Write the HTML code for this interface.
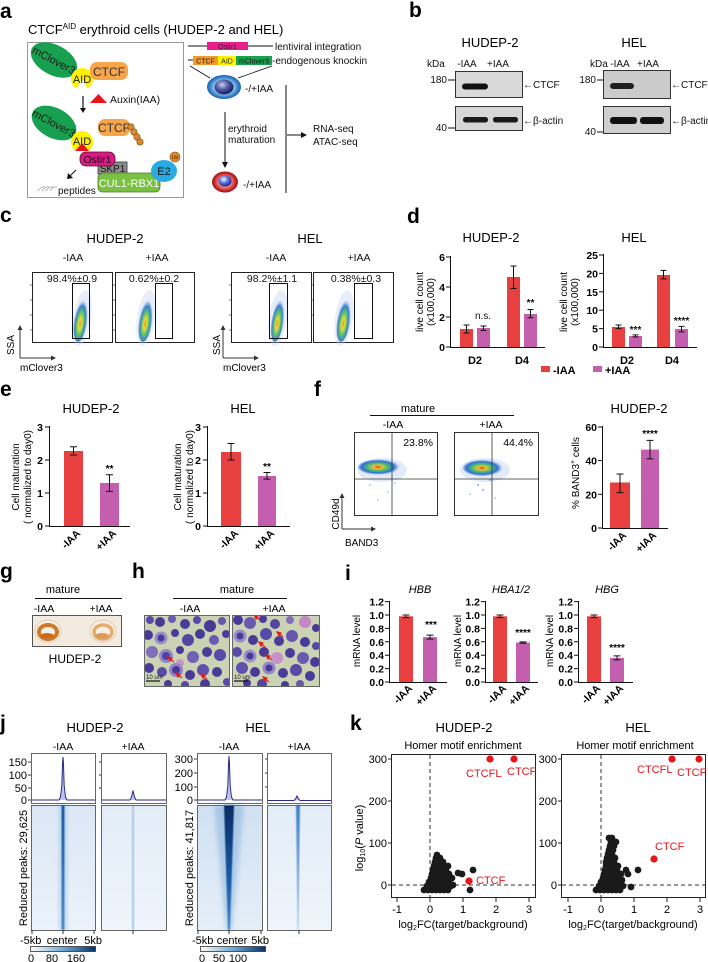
<!DOCTYPE html>
<html><head><meta charset="utf-8"><style>
html,body{margin:0;padding:0;background:#fff;}
svg{display:block;font-family:"Liberation Sans",Arial,sans-serif;}
</style></head><body>
<svg width="708" height="962" viewBox="0 0 708 962" xmlns="http://www.w3.org/2000/svg">
<defs>
 <radialGradient id="flowG" cx="50%" cy="62%" r="50%">
  <stop offset="0" stop-color="#f08a2a"/>
  <stop offset="0.22" stop-color="#e8dc3a"/>
  <stop offset="0.48" stop-color="#5cc36a"/>
  <stop offset="0.75" stop-color="#3f7fd0"/>
  <stop offset="1" stop-color="#8fb2e8" stop-opacity="0"/>
 </radialGradient>
 <radialGradient id="flowF" cx="45%" cy="50%" r="50%">
  <stop offset="0" stop-color="#e83020"/>
  <stop offset="0.2" stop-color="#f0c030"/>
  <stop offset="0.45" stop-color="#50c070"/>
  <stop offset="0.75" stop-color="#2f6fd8"/>
  <stop offset="1" stop-color="#6f9be8" stop-opacity="0"/>
 </radialGradient>
 <radialGradient id="cellB" cx="50%" cy="50%" r="50%">
  <stop offset="0.55" stop-color="#9cc8ee"/>
  <stop offset="0.8" stop-color="#3d8ad0"/>
  <stop offset="1" stop-color="#1d5fa8"/>
 </radialGradient>
 <radialGradient id="nucB" cx="40%" cy="35%" r="60%">
  <stop offset="0" stop-color="#c8d0e8"/>
  <stop offset="0.5" stop-color="#5a63a8"/>
  <stop offset="1" stop-color="#1c2266"/>
 </radialGradient>
 <radialGradient id="cellR" cx="50%" cy="50%" r="50%">
  <stop offset="0.5" stop-color="#e88080"/>
  <stop offset="0.8" stop-color="#d02a2a"/>
  <stop offset="1" stop-color="#9a1010"/>
 </radialGradient>
 <radialGradient id="nucR" cx="40%" cy="35%" r="60%">
  <stop offset="0" stop-color="#ffffff"/>
  <stop offset="0.5" stop-color="#6a80e0"/>
  <stop offset="1" stop-color="#2030a0"/>
 </radialGradient>
 <linearGradient id="cbar" x1="0" x2="1" y1="0" y2="0">
  <stop offset="0" stop-color="#ffffff"/>
  <stop offset="0.5" stop-color="#6fa8d8"/>
  <stop offset="1" stop-color="#08306b"/>
 </linearGradient>
 <linearGradient id="hm1" x1="0" x2="0" y1="0" y2="1">
  <stop offset="0" stop-color="#dbe7f5"/><stop offset="1" stop-color="#ebf2fa"/>
 </linearGradient>
 <linearGradient id="hm2" x1="0" x2="0" y1="0" y2="1">
  <stop offset="0" stop-color="#e3edf7"/><stop offset="1" stop-color="#eef4fa"/>
 </linearGradient>
 <linearGradient id="hm3" x1="0" x2="0" y1="0" y2="1">
  <stop offset="0" stop-color="#d0e1f2"/><stop offset="1" stop-color="#e4eef8"/>
 </linearGradient>
 <linearGradient id="st1" x1="0" x2="0" y1="0" y2="1">
  <stop offset="0" stop-color="#14579e"/><stop offset="1" stop-color="#4a8cca"/>
 </linearGradient>
 <linearGradient id="st3" x1="0" x2="0" y1="0" y2="1">
  <stop offset="0" stop-color="#062b63"/><stop offset="0.6" stop-color="#1b5aa5"/><stop offset="1" stop-color="#3f86c8"/>
 </linearGradient>
 <linearGradient id="st4" x1="0" x2="0" y1="0" y2="1">
  <stop offset="0" stop-color="#3f82c4"/><stop offset="1" stop-color="#b5d0ea"/>
 </linearGradient>
 <filter id="bl0" x="-100%" y="-5%" width="300%" height="110%"><feGaussianBlur stdDeviation="0.6"/></filter>
 <filter id="bl" x="-50%" y="-5%" width="200%" height="110%"><feGaussianBlur stdDeviation="1"/></filter>
 <filter id="bl2" x="-50%" y="-5%" width="200%" height="110%"><feGaussianBlur stdDeviation="2.5"/></filter>
 <clipPath id="ch1"><rect x="144" y="615" width="86" height="72"/></clipPath>
 <clipPath id="ch2"><rect x="232" y="615" width="88" height="72"/></clipPath>
 <clipPath id="cg"><rect x="32" y="615" width="90" height="32"/></clipPath>
</defs>

<!-- ============ PANEL A ============ -->
<text x="0" y="18" font-size="21" font-weight="bold">a</text>
<text x="28" y="34" font-size="13">CTCF<tspan font-size="8" dy="-5">AID</tspan><tspan dy="5"> erythroid cells (HUDEP-2 and HEL)</tspan></text>
<rect x="27.5" y="42.5" width="156" height="155" fill="none" stroke="#999" stroke-width="1"/>

<ellipse cx="54" cy="60" rx="25" ry="15" transform="rotate(28 54 60)" fill="#16a050"/>
<text x="54" y="64" transform="rotate(28 54 60)" font-size="11" text-anchor="middle" fill="#1a1a1a">mClover3</text>
<path d="M82 79 L87.5 88.5 A11 11 0 1 0 76.5 88.5 Z" fill="#fff200"/>
<text x="82" y="83" font-size="11" text-anchor="middle" fill="#222">AID</text>
<rect x="90" y="62" width="38" height="18" rx="7" fill="#f7a54b"/>
<text x="109" y="76" font-size="12" text-anchor="middle" fill="#333">CTCF</text>
<line x1="83" y1="96" x2="83" y2="109" stroke="#111" stroke-width="1.2"/>
<polygon points="80,108 86,108 83,113" fill="#111"/>
<polygon points="90,103 107,103 98.5,94" fill="#e8141b"/>
<text x="110" y="103" font-size="10.5" fill="#111">Auxin(IAA)</text>

<ellipse cx="54" cy="123" rx="24" ry="15" transform="rotate(28 54 123)" fill="#16a050"/>
<text x="54" y="127" transform="rotate(28 54 123)" font-size="11" text-anchor="middle" fill="#1a1a1a">mClover3</text>
<path d="M82 142 L87.5 151.5 A11 11 0 1 0 76.5 151.5 Z" fill="#fff200"/>
<polygon points="75,151 89,151 82,143" fill="#e8141b"/>
<text x="82" y="145" font-size="11" text-anchor="middle" fill="#222">AID</text>
<rect x="98" y="119" width="32" height="17" rx="7" fill="#f7a54b"/>
<text x="114" y="132" font-size="12" text-anchor="middle" fill="#333">CTCF</text>
<g fill="#d98a2e" stroke="#7a4a10" stroke-width="0.6">
 <circle cx="131" cy="127" r="3.2"/><circle cx="134" cy="132" r="3.2"/><circle cx="137" cy="137" r="3.2"/><circle cx="140" cy="142" r="3.2"/>
</g>
<rect x="98" y="162" width="29" height="12" fill="#8c8c8c" stroke="#333" stroke-width="0.8"/>
<text x="112.5" y="172" font-size="10" text-anchor="middle" fill="#111">SKP1</text>
<rect x="80" y="152" width="35" height="14" rx="6" fill="#d81b84" stroke="#5a0a30" stroke-width="0.8"/>
<text x="97.5" y="163" font-size="10.5" text-anchor="middle" fill="#2a0010">Ostir1</text>
<rect x="98" y="173" width="62" height="19" rx="5" fill="#7ac143" stroke="#4a7a20" stroke-width="0.8"/>
<text x="129" y="187" font-size="11" text-anchor="middle" fill="#fff">CUL1-RBX1</text>
<ellipse cx="164" cy="171" rx="13" ry="11" fill="#29abe2"/>
<text x="164" y="175" font-size="11" text-anchor="middle" fill="#111">E2</text>
<circle cx="175" cy="157" r="5" fill="#e08a2a" stroke="#7a4a10" stroke-width="0.6"/>
<text x="175" y="159" font-size="5" text-anchor="middle" fill="#4a2a00">Ub</text>
<line x1="76" y1="170" x2="70" y2="176" stroke="#111" stroke-width="1.1"/>
<polygon points="67,179 68,173 73,178" fill="#111"/>
<g fill="none" stroke="#aaa" stroke-width="0.8">
 <path d="M38 191 q3 -5 7 -4"/><path d="M42 191 q3 -5 7 -4"/><path d="M46 191 q3 -5 7 -4"/><path d="M50 191 q3 -5 7 -4"/>
</g>
<text x="58" y="194" font-size="10" fill="#111">peptides</text>

<line x1="188" y1="46" x2="273" y2="46" stroke="#111" stroke-width="1"/>
<rect x="207" y="42" width="41" height="8" fill="#e91e8c"/>
<text x="227.5" y="49" font-size="7" text-anchor="middle" fill="#222">Ostir1</text>
<text x="275" y="50" font-size="10" fill="#111">lentiviral integration</text>
<line x1="188" y1="60" x2="193" y2="60" stroke="#111" stroke-width="1"/>
<rect x="193" y="56" width="25" height="9" fill="#f39a2e"/>
<rect x="218" y="56" width="18" height="9" fill="#fff200"/>
<rect x="236" y="56" width="36" height="9" fill="#1aa04e"/>
<text x="205.5" y="63.5" font-size="7" text-anchor="middle" fill="#222">CTCF</text>
<text x="227" y="63.5" font-size="7" text-anchor="middle" fill="#222">AID</text>
<text x="254" y="63.5" font-size="7" text-anchor="middle" fill="#111">mClover3</text>
<text x="272" y="64" font-size="10" fill="#111">-endogenous knockin</text>
<line x1="190" y1="66" x2="210" y2="78" stroke="#111" stroke-width="0.8"/>
<line x1="272" y1="66" x2="238" y2="78" stroke="#111" stroke-width="0.8"/>
<ellipse cx="224" cy="87" rx="17" ry="12" fill="url(#cellB)"/>
<ellipse cx="224" cy="87" rx="9.5" ry="7.5" fill="url(#nucB)"/>
<text x="245" y="92" font-size="10" fill="#111">-/+IAA</text>
<line x1="286" y1="85" x2="286" y2="193" stroke="#111" stroke-width="1"/>
<line x1="225" y1="112" x2="225" y2="163" stroke="#111" stroke-width="1"/>
<polygon points="222,162 228,162 225,168" fill="#111"/>
<text x="228" y="132" font-size="10" fill="#111">erythroid</text>
<text x="228" y="143" font-size="10" fill="#111">maturation</text>
<line x1="287" y1="135" x2="302" y2="135" stroke="#111" stroke-width="1"/>
<polygon points="301,132 301,138 307,135" fill="#111"/>
<text x="313" y="132" font-size="10" fill="#111">RNA-seq</text>
<text x="313" y="145" font-size="10" fill="#111">ATAC-seq</text>
<ellipse cx="225" cy="182" rx="13" ry="10.5" fill="url(#cellR)"/>
<ellipse cx="225" cy="181" rx="6.5" ry="5.5" fill="url(#nucR)"/>
<text x="243" y="188" font-size="10" fill="#111">-/+IAA</text>

<!-- ============ PANEL B ============ -->
<text x="409" y="17" font-size="21" font-weight="bold">b</text>
<text x="490" y="47" font-size="13" text-anchor="middle">HUDEP-2</text>
<text x="634" y="47" font-size="13" text-anchor="middle">HEL</text>
<g font-size="10" fill="#111">
 <text x="427" y="67">kDa</text><text x="467" y="67" text-anchor="middle">-IAA</text><text x="498" y="67" text-anchor="middle">+IAA</text>
 <text x="590" y="67">kDa</text><text x="620" y="67" text-anchor="middle">-IAA</text><text x="648" y="67" text-anchor="middle">+IAA</text>
</g>
<rect x="455.5" y="71.5" width="67" height="26" fill="#d9d9d9" stroke="#333" stroke-width="1"/>
<rect x="455.5" y="106.5" width="67" height="24" fill="#d6d6d6" stroke="#333" stroke-width="1"/>
<rect x="603.5" y="70.5" width="67" height="28" fill="#cbcbcb" stroke="#333" stroke-width="1"/>
<rect x="603.5" y="106.5" width="67" height="27" fill="#cfcfcf" stroke="#333" stroke-width="1"/>
<rect x="462" y="83.5" width="26" height="6" rx="3" fill="#111"/>
<rect x="463" y="117" width="25" height="5.5" rx="2.5" fill="#1a1a1a"/>
<rect x="493" y="117" width="25" height="5.5" rx="2.5" fill="#1a1a1a"/>
<rect x="610" y="83" width="24" height="6" rx="3" fill="#1f1f1f"/>
<rect x="610" y="117" width="27" height="7" rx="3" fill="#111"/>
<rect x="640" y="117" width="24" height="7" rx="3" fill="#111"/>
<g font-size="10" fill="#111">
 <text x="447" y="83" text-anchor="end">180</text><line x1="448" y1="80" x2="455" y2="80" stroke="#111"/>
 <text x="447" y="131" text-anchor="end">40</text><line x1="448" y1="128" x2="455" y2="128" stroke="#111"/>
 <text x="596" y="83" text-anchor="end">180</text><line x1="597" y1="80" x2="603" y2="80" stroke="#111"/>
 <text x="596" y="135" text-anchor="end">40</text><line x1="597" y1="132" x2="603" y2="132" stroke="#111"/>
 <text x="523" y="88">←CTCF</text><text x="523" y="124">←β-actin</text>
 <text x="671" y="88">←CTCF</text><text x="671" y="124">←β-actin</text>
</g>

<!-- ============ PANEL C ============ -->
<text x="0" y="222" font-size="21" font-weight="bold">c</text>
<text x="115" y="243" font-size="13" text-anchor="middle">HUDEP-2</text>
<text x="310" y="243" font-size="13" text-anchor="middle">HEL</text>
<g font-size="10.5" text-anchor="middle" fill="#111">
 <text x="73" y="261">-IAA</text><text x="157" y="261">+IAA</text>
 <text x="276" y="261">-IAA</text><text x="359" y="261">+IAA</text>
</g>
<g fill="none" stroke="#222" stroke-width="1">
 <rect x="32.5" y="272.5" width="80" height="70"/>
 <rect x="115.5" y="272.5" width="79" height="70"/>
 <rect x="231.5" y="272.5" width="80" height="70"/>
 <rect x="313.5" y="272.5" width="80" height="70"/>
</g>
<g stroke="#444" stroke-width="0.7">
 <line x1="30" y1="285" x2="32" y2="285"/><line x1="30" y1="300" x2="32" y2="300"/><line x1="30" y1="315" x2="32" y2="315"/><line x1="30" y1="330" x2="32" y2="330"/>
 <line x1="113" y1="285" x2="115" y2="285"/><line x1="113" y1="300" x2="115" y2="300"/><line x1="113" y1="315" x2="115" y2="315"/><line x1="113" y1="330" x2="115" y2="330"/>
 <line x1="229" y1="285" x2="231" y2="285"/><line x1="229" y1="300" x2="231" y2="300"/><line x1="229" y1="315" x2="231" y2="315"/><line x1="229" y1="330" x2="231" y2="330"/>
 <line x1="311" y1="285" x2="313" y2="285"/><line x1="311" y1="300" x2="313" y2="300"/><line x1="311" y1="315" x2="313" y2="315"/>
</g>
<g font-size="10.5" text-anchor="middle" fill="#111">
 <text x="72" y="282">98.4%±0.9</text><text x="154" y="282">0.62%±0.2</text>
 <text x="272" y="282">98.2%±1.1</text><text x="356" y="282">0.38%±0.3</text>
</g>
<ellipse cx="82" cy="318" rx="9" ry="28" fill="#b9cdee" opacity="0.35" transform="rotate(8 82 318)"/>
<ellipse cx="81" cy="318" rx="7" ry="24" fill="url(#flowG)" transform="rotate(8 81 318)"/>
<ellipse cx="146" cy="318" rx="9" ry="28" fill="#b9cdee" opacity="0.35" transform="rotate(8 146 318)"/>
<ellipse cx="146" cy="318" rx="7" ry="24" fill="url(#flowG)" transform="rotate(8 146 318)"/>
<ellipse cx="278" cy="318" rx="9" ry="28" fill="#b9cdee" opacity="0.35" transform="rotate(8 278 318)"/>
<ellipse cx="278" cy="318" rx="6.5" ry="24" fill="url(#flowG)" transform="rotate(8 278 318)"/>
<ellipse cx="344" cy="318" rx="9" ry="28" fill="#b9cdee" opacity="0.35" transform="rotate(8 344 318)"/>
<ellipse cx="344" cy="318" rx="7" ry="24" fill="url(#flowG)" transform="rotate(8 344 318)"/>
<g fill="none" stroke="#111" stroke-width="1">
 <rect x="72.5" y="283.5" width="17" height="55"/>
 <rect x="155.5" y="283.5" width="17" height="55"/>
 <rect x="269.5" y="283.5" width="18" height="55"/>
 <rect x="354.5" y="283.5" width="18" height="55"/>
</g>
<g stroke="#333" stroke-width="1">
 <line x1="20" y1="358" x2="20" y2="329"/><line x1="20" y1="358" x2="52" y2="358"/>
 <line x1="223" y1="358" x2="223" y2="329"/><line x1="223" y1="358" x2="255" y2="358"/>
</g>
<polygon points="17.5,330 22.5,330 20,325" fill="#333"/><polygon points="51,355.5 51,360.5 56,358" fill="#333"/>
<polygon points="220.5,330 225.5,330 223,325" fill="#333"/><polygon points="254,355.5 254,360.5 259,358" fill="#333"/>
<text x="14" y="345" font-size="10" text-anchor="middle" transform="rotate(-90 14 345)">SSA</text>
<text x="220" y="345" font-size="10" text-anchor="middle" transform="rotate(-90 220 345)">SSA</text>
<text x="20" y="371" font-size="10">mClover3</text>
<text x="223" y="371" font-size="10">mClover3</text>

<!-- ============ PANEL D ============ -->
<text x="407" y="223" font-size="21" font-weight="bold">d</text>
<text x="491" y="242" font-size="13" text-anchor="middle">HUDEP-2</text>
<text x="634" y="242" font-size="13" text-anchor="middle">HEL</text>
<text x="423" y="302" font-size="10" text-anchor="middle" transform="rotate(-90 423 302)">live cell count</text>
<text x="434" y="302" font-size="10" text-anchor="middle" transform="rotate(-90 434 302)">(x100,000)</text>
<text x="567" y="302" font-size="10" text-anchor="middle" transform="rotate(-90 567 302)">live cell count</text>
<text x="578" y="302" font-size="10" text-anchor="middle" transform="rotate(-90 578 302)">(x100,000)</text>
<g stroke="#111" stroke-width="1">
 <line x1="450.5" y1="256" x2="450.5" y2="347.5"/><line x1="450" y1="347.5" x2="545" y2="347.5"/>
 <line x1="446" y1="257" x2="450" y2="257"/><line x1="446" y1="287" x2="450" y2="287"/><line x1="446" y1="317" x2="450" y2="317"/><line x1="446" y1="347" x2="450" y2="347"/>
 <line x1="603.5" y1="254" x2="603.5" y2="347.5"/><line x1="603" y1="347.5" x2="697" y2="347.5"/>
 <line x1="599" y1="255" x2="603" y2="255"/><line x1="599" y1="273.4" x2="603" y2="273.4"/><line x1="599" y1="291.8" x2="603" y2="291.8"/><line x1="599" y1="310.2" x2="603" y2="310.2"/><line x1="599" y1="328.6" x2="603" y2="328.6"/><line x1="599" y1="347" x2="603" y2="347"/>
</g>
<g font-size="10.5" font-weight="bold" text-anchor="end">
 <text x="445" y="261">6</text><text x="445" y="291">4</text><text x="445" y="321">2</text><text x="445" y="351">0</text>
 <text x="598" y="259">25</text><text x="598" y="277.4">20</text><text x="598" y="295.8">15</text><text x="598" y="314.2">10</text><text x="598" y="332.6">5</text><text x="598" y="351">0</text>
</g>
<g fill="#e8403e">
 <rect x="460" y="329" width="13" height="18"/><rect x="507" y="277" width="13" height="70"/>
 <rect x="612" y="327" width="13" height="20"/><rect x="657" y="275" width="13" height="72"/>
</g>
<g fill="#c45fb0">
 <rect x="477" y="328" width="13" height="19"/><rect x="524" y="314" width="13" height="33"/>
 <rect x="629" y="336" width="13" height="11"/><rect x="675" y="329" width="13" height="18"/>
</g>
<g stroke="#111" stroke-width="1">
 <path d="M466.5 325V333M463.5 325H469.5M463.5 333H469.5"/>
 <path d="M483.5 326V330.5M480.5 326H486.5M480.5 330.5H486.5"/>
 <path d="M513.5 266V288.5M510.5 266H516.5M510.5 288.5H516.5"/>
 <path d="M530.5 309.5V317.8M527.5 309.5H533.5M527.5 317.8H533.5"/>
 <path d="M618.5 325V328.6M615.5 325H621.5M615.5 328.6H621.5"/>
 <path d="M635.5 334.9V337M632.5 334.9H638.5M632.5 337H638.5"/>
 <path d="M663.5 270.4V278.9M660.5 270.4H666.5M660.5 278.9H666.5"/>
 <path d="M681.5 326.4V331.9M678.5 326.4H684.5M678.5 331.9H684.5"/>
</g>
<g font-size="10" text-anchor="middle" fill="#111">
 <text x="483" y="319">n.s.</text>
 <text x="530.5" y="306" font-weight="bold">**</text>
 <text x="635.5" y="333" font-weight="bold">***</text>
 <text x="681.5" y="324" font-weight="bold">****</text>
</g>
<g font-size="11" font-weight="bold" text-anchor="middle">
 <text x="475" y="364">D2</text><text x="522" y="364">D4</text>
 <text x="627" y="364">D2</text><text x="672" y="364">D4</text>
</g>
<rect x="541" y="366" width="9" height="6" fill="#e8403e"/>
<text x="553" y="374" font-size="11" font-weight="bold">-IAA</text>
<rect x="593" y="366" width="9" height="6" fill="#c45fb0"/>
<text x="605" y="374" font-size="11" font-weight="bold">+IAA</text>

<!-- ============ PANEL E ============ -->
<text x="0" y="396" font-size="21" font-weight="bold">e</text>
<text x="91" y="413" font-size="13" text-anchor="middle">HUDEP-2</text>
<text x="243" y="413" font-size="13" text-anchor="middle">HEL</text>
<text x="19" y="477" font-size="10" text-anchor="middle" transform="rotate(-90 19 477)">Cell maturation</text>
<text x="31" y="477" font-size="10" text-anchor="middle" transform="rotate(-90 31 477)">( normalized to day0)</text>
<text x="181" y="477" font-size="10" text-anchor="middle" transform="rotate(-90 181 477)">Cell maturation</text>
<text x="193" y="477" font-size="10" text-anchor="middle" transform="rotate(-90 193 477)">( normalized to day0)</text>
<g stroke="#111" stroke-width="1">
 <line x1="49.5" y1="426" x2="49.5" y2="526.5"/><line x1="49" y1="526.5" x2="130" y2="526.5"/>
 <line x1="45" y1="427" x2="49" y2="427"/><line x1="45" y1="460" x2="49" y2="460"/><line x1="45" y1="493" x2="49" y2="493"/><line x1="45" y1="526" x2="49" y2="526"/>
 <line x1="207.5" y1="426" x2="207.5" y2="526.5"/><line x1="207" y1="526.5" x2="290" y2="526.5"/>
 <line x1="203" y1="427" x2="207" y2="427"/><line x1="203" y1="460" x2="207" y2="460"/><line x1="203" y1="493" x2="207" y2="493"/><line x1="203" y1="526" x2="207" y2="526"/>
</g>
<g font-size="10.5" font-weight="bold" text-anchor="end">
 <text x="43" y="431">3</text><text x="43" y="464">2</text><text x="43" y="497">1</text><text x="43" y="530">0</text>
 <text x="201" y="431">3</text><text x="201" y="464">2</text><text x="201" y="497">1</text><text x="201" y="530">0</text>
</g>
<rect x="64" y="451" width="19" height="75" fill="#e8403e"/>
<rect x="100" y="483" width="19" height="43" fill="#c45fb0"/>
<rect x="221" y="452" width="20" height="74" fill="#e8403e"/>
<rect x="258" y="476" width="18" height="50" fill="#c45fb0"/>
<g stroke="#111" stroke-width="1">
 <path d="M73.5 446.8V455M70 446.8H77M70 455H77"/>
 <path d="M109.5 474.8V491.4M106 474.8H113M106 491.4H113"/>
 <path d="M231 443.5V460M227.5 443.5H234.5M227.5 460H234.5"/>
 <path d="M267 472.5V479.1M263.5 472.5H270.5M263.5 479.1H270.5"/>
</g>
<text x="109.5" y="472" font-size="10" font-weight="bold" text-anchor="middle">**</text>
<text x="267" y="470" font-size="10" font-weight="bold" text-anchor="middle">**</text>
<g font-size="10.5" font-weight="bold" text-anchor="end">
 <text x="81" y="534" transform="rotate(-45 81 534)">-IAA</text>
 <text x="117" y="534" transform="rotate(-45 117 534)">+IAA</text>
 <text x="239" y="534" transform="rotate(-45 239 534)">-IAA</text>
 <text x="275" y="534" transform="rotate(-45 275 534)">+IAA</text>
</g>

<!-- ============ PANEL F ============ -->
<text x="314" y="396" font-size="21" font-weight="bold">f</text>
<text x="418" y="412" font-size="11" text-anchor="middle">mature</text>
<line x1="370" y1="415.5" x2="514" y2="415.5" stroke="#111" stroke-width="1"/>
<text x="393" y="428" font-size="10.5" text-anchor="middle">-IAA</text>
<text x="491" y="428" font-size="10.5" text-anchor="middle">+IAA</text>
<g fill="none" stroke="#333" stroke-width="1">
 <rect x="354.5" y="432.5" width="83" height="83"/>
 <rect x="454.5" y="432.5" width="84" height="83"/>
</g>
<ellipse cx="382" cy="470" rx="25" ry="12" fill="#b9cdee" opacity="0.4"/>
<ellipse cx="380" cy="467" rx="22" ry="8" fill="url(#flowF)"/>
<ellipse cx="485" cy="470" rx="25" ry="12" fill="#b9cdee" opacity="0.4"/>
<ellipse cx="484" cy="468" rx="21" ry="8.5" fill="url(#flowF)"/>
<g fill="#5b86d8" opacity="0.7">
 <circle cx="370" cy="485" r="0.8"/><circle cx="388" cy="492" r="0.8"/><circle cx="395" cy="483" r="0.8"/><circle cx="378" cy="500" r="0.8"/>
 <circle cx="478" cy="485" r="1"/><circle cx="490" cy="480" r="1"/><circle cx="483" cy="490" r="1"/><circle cx="495" cy="498" r="0.8"/><circle cx="470" cy="494" r="0.8"/>
</g>
<g stroke="#333" stroke-width="0.8">
 <line x1="392" y1="433" x2="392" y2="515"/><line x1="355" y1="479" x2="437" y2="479"/>
 <line x1="492" y1="433" x2="492" y2="515"/><line x1="455" y1="479" x2="538" y2="479"/>
</g>
<text x="433" y="446" font-size="10.5" text-anchor="end">23.8%</text>
<text x="533" y="446" font-size="10.5" text-anchor="end">44.4%</text>
<g stroke="#333" stroke-width="1">
 <line x1="342" y1="529" x2="342" y2="497"/><line x1="342" y1="529" x2="372" y2="529"/>
</g>
<polygon points="339.5,498 344.5,498 342,493" fill="#333"/><polygon points="371,526.5 371,531.5 376,529" fill="#333"/>
<text x="339" y="514" font-size="10" text-anchor="middle" transform="rotate(-90 339 514)">CD49d</text>
<text x="345" y="546" font-size="10">BAND3</text>

<text x="639" y="413" font-size="13" text-anchor="middle">HUDEP-2</text>
<text x="579" y="473" font-size="10" text-anchor="middle" transform="rotate(-90 579 473)">% BAND3<tspan font-size="7" dy="-4">+</tspan><tspan dy="4"> cells</tspan></text>
<g stroke="#111" stroke-width="1">
 <line x1="602.5" y1="426" x2="602.5" y2="528.5"/><line x1="602" y1="528.5" x2="668" y2="528.5"/>
 <line x1="598" y1="427" x2="602" y2="427"/><line x1="598" y1="460.6" x2="602" y2="460.6"/><line x1="598" y1="494.3" x2="602" y2="494.3"/><line x1="598" y1="528" x2="602" y2="528"/>
</g>
<g font-size="10.5" font-weight="bold" text-anchor="end">
 <text x="597" y="431">60</text><text x="597" y="464.6">40</text><text x="597" y="498.3">20</text><text x="597" y="532">0</text>
</g>
<rect x="610" y="482.5" width="20" height="45.5" fill="#e8403e"/>
<rect x="641" y="449.6" width="18" height="78.4" fill="#c45fb0"/>
<g stroke="#111" stroke-width="1">
 <path d="M620 474V492.6M616.5 474H623.5M616.5 492.6H623.5"/>
 <path d="M650 440.4V458.9M646.5 440.4H653.5M646.5 458.9H653.5"/>
</g>
<text x="650" y="437" font-size="10" font-weight="bold" text-anchor="middle">****</text>
<g font-size="10.5" font-weight="bold" text-anchor="end">
 <text x="627" y="536" transform="rotate(-45 627 536)">-IAA</text>
 <text x="657" y="536" transform="rotate(-45 657 536)">+IAA</text>
</g>

<!-- ============ PANEL G ============ -->
<text x="0" y="578" font-size="21" font-weight="bold">g</text>
<text x="63" y="593" font-size="11" text-anchor="middle">mature</text>
<line x1="35" y1="598.5" x2="122" y2="598.5" stroke="#111" stroke-width="1"/>
<text x="44" y="612" font-size="10.5" text-anchor="middle">-IAA</text>
<text x="101" y="612" font-size="10.5" text-anchor="middle">+IAA</text>
<g clip-path="url(#cg)">
 <rect x="32" y="615" width="90" height="32" fill="#f3ebdf"/>
 <ellipse cx="48" cy="631" rx="13" ry="11" fill="#f7efe4" stroke="#e6d6c2" stroke-width="1.5"/>
 <ellipse cx="48" cy="632" rx="9" ry="7" fill="none" stroke="#cf7a2a" stroke-width="4"/>
 <ellipse cx="47" cy="636" rx="7" ry="3" fill="#c86e20"/>
 <ellipse cx="103" cy="631" rx="13" ry="11" fill="#f7efe4" stroke="#e6d6c2" stroke-width="1.5"/>
 <ellipse cx="103" cy="632" rx="9" ry="7" fill="none" stroke="#e4ad70" stroke-width="3.5"/>
 <ellipse cx="102" cy="636" rx="7" ry="3" fill="#dc9a55"/>
</g>
<rect x="32.5" y="615.5" width="89" height="31" fill="none" stroke="#555" stroke-width="1"/>
<text x="75" y="663" font-size="12" text-anchor="middle">HUDEP-2</text>

<!-- ============ PANEL H ============ -->
<text x="132" y="578" font-size="21" font-weight="bold">h</text>
<text x="237" y="593" font-size="11" text-anchor="middle">mature</text>
<line x1="173" y1="598.5" x2="287" y2="598.5" stroke="#111" stroke-width="1"/>
<text x="190" y="612" font-size="10.5" text-anchor="middle">-IAA</text>
<text x="274" y="612" font-size="10.5" text-anchor="middle">+IAA</text>
<g clip-path="url(#ch1)">
 <rect x="144" y="615" width="86" height="72" fill="#cbd3b4"/>
 <circle cx="150" cy="620" r="4" fill="#5a4aa8"/><circle cx="160" cy="622" r="5" fill="#4a3a98"/><circle cx="172" cy="619" r="4" fill="#6a5ab0"/>
 <circle cx="185" cy="624" r="5" fill="#4b3c9a"/><circle cx="197" cy="620" r="4" fill="#5848a5"/><circle cx="210" cy="626" r="6" fill="#4a3a95"/>
 <circle cx="222" cy="621" r="4" fill="#6656ae"/>
 <circle cx="148" cy="635" r="5" fill="#4a3a98"/><circle cx="161" cy="638" r="6.5" fill="#9a8cc8"/><circle cx="161" cy="638" r="3.5" fill="#4a3a98"/>
 <circle cx="175" cy="633" r="4" fill="#4b3c9a"/><circle cx="188" cy="640" r="6" fill="#5545a2"/><circle cx="200" cy="634" r="5" fill="#4a3a98"/>
 <circle cx="214" cy="640" r="5" fill="#6a5ab0"/><circle cx="226" cy="634" r="4" fill="#4b3c9a"/>
 <circle cx="152" cy="652" r="6" fill="#8070bb"/><circle cx="166" cy="656" r="7" fill="#9486c6"/><circle cx="166" cy="656" r="4" fill="#5040a0"/>
 <circle cx="180" cy="650" r="4" fill="#4a3a98"/><circle cx="193" cy="657" r="6" fill="#7060b5"/><circle cx="207" cy="652" r="5" fill="#4b3c9a"/>
 <circle cx="220" cy="655" r="6" fill="#5a4aa8"/><circle cx="180" cy="663" r="4" fill="#c596c6"/>
 <circle cx="149" cy="668" r="5" fill="#4a3a98"/><circle cx="162" cy="672" r="5" fill="#5a4aa8"/><circle cx="176" cy="670" r="7" fill="#9384c5"/><circle cx="176" cy="670" r="4" fill="#4a3a98"/>
 <circle cx="190" cy="675" r="5" fill="#4a3a98"/><circle cx="203" cy="670" r="6" fill="#6050aa"/><circle cx="217" cy="672" r="5" fill="#4b3c9a"/>
 <circle cx="227" cy="682" r="4" fill="#5a4aa8"/><circle cx="168" cy="684" r="4" fill="#4a3a98"/><circle cx="185" cy="685" r="4" fill="#5848a5"/>
 <circle cx="205" cy="684" r="5" fill="#4a3a98"/>
 <g stroke="#e02020" stroke-width="1.2" fill="#e02020">
  <line x1="174" y1="662" x2="170" y2="659"/><polygon points="168,657 172,658 170,661"/>
  <line x1="182" y1="678" x2="178" y2="675"/><polygon points="176,673 180,674 178,677"/>
  <line x1="207" y1="679" x2="203" y2="676"/><polygon points="201,674 205,675 203,678"/>
 </g>
 <line x1="146" y1="681" x2="160" y2="681" stroke="#111" stroke-width="1.2"/>
 <text x="146" y="679" font-size="6" fill="#111">10 um</text>
</g>
<rect x="144.5" y="615.5" width="85" height="71" fill="none" stroke="#666" stroke-width="1"/>
<g clip-path="url(#ch2)">
 <rect x="232" y="615" width="88" height="72" fill="#cbd3b4"/>
 <circle cx="238" cy="620" r="5" fill="#4a3a98"/><circle cx="250" cy="623" r="6" fill="#6a5ab0"/><circle cx="263" cy="619" r="4" fill="#4b3c9a"/>
 <circle cx="275" cy="624" r="5" fill="#5545a2"/><circle cx="290" cy="620" r="4" fill="#8070bb"/><circle cx="305" cy="622" r="6" fill="#c488c4"/>
 <circle cx="316" cy="628" r="4" fill="#4a3a98"/>
 <circle cx="240" cy="636" r="6.5" fill="#9a8cc8"/><circle cx="240" cy="636" r="3.5" fill="#4a3a98"/><circle cx="253" cy="640" r="5" fill="#4a3a98"/>
 <circle cx="266" cy="634" r="6" fill="#5a4aa8"/><circle cx="279" cy="641" r="5" fill="#4b3c9a"/><circle cx="292" cy="636" r="6" fill="#6656ae"/>
 <circle cx="305" cy="642" r="5" fill="#4a3a98"/><circle cx="316" cy="646" r="4" fill="#5848a5"/>
 <circle cx="237" cy="652" r="5" fill="#5a4aa8"/><circle cx="250" cy="656" r="6.5" fill="#9a8cc8"/><circle cx="250" cy="656" r="3.5" fill="#4a3a98"/>
 <circle cx="264" cy="652" r="5" fill="#4a3a98"/><circle cx="277" cy="658" r="6" fill="#c890c8"/><circle cx="290" cy="653" r="5" fill="#4b3c9a"/>
 <circle cx="303" cy="658" r="6" fill="#6a5ab0"/><circle cx="315" cy="662" r="5" fill="#4a3a98"/>
 <circle cx="242" cy="668" r="6" fill="#6050aa"/><circle cx="255" cy="672" r="5" fill="#4a3a98"/><circle cx="269" cy="668" r="6.5" fill="#9486c6"/><circle cx="269" cy="668" r="3.5" fill="#4a3a98"/>
 <circle cx="283" cy="673" r="5" fill="#4b3c9a"/><circle cx="296" cy="670" r="6" fill="#5a4aa8"/><circle cx="310" cy="676" r="5" fill="#4a3a98"/>
 <circle cx="247" cy="683" r="4" fill="#4a3a98"/><circle cx="262" cy="684" r="5" fill="#5545a2"/><circle cx="285" cy="685" r="4" fill="#4a3a98"/>
 <circle cx="300" cy="684" r="4" fill="#6656ae"/>
 <g stroke="#e02020" stroke-width="1.2" fill="#e02020">
  <line x1="260" y1="620" x2="256" y2="617"/><polygon points="254,615 258,616 256,619"/>
  <line x1="265" y1="647" x2="261" y2="644"/><polygon points="259,642 263,643 261,646"/>
  <line x1="283" y1="637" x2="279" y2="634"/><polygon points="277,632 281,633 279,636"/>
  <line x1="272" y1="660" x2="268" y2="657"/><polygon points="266,655 270,656 268,659"/>
  <line x1="269" y1="682" x2="265" y2="679"/><polygon points="263,677 267,678 265,681"/>
 </g>
 <line x1="234" y1="681" x2="248" y2="681" stroke="#111" stroke-width="1.2"/>
 <text x="234" y="679" font-size="6" fill="#111">10 um</text>
</g>
<rect x="232.5" y="615.5" width="87" height="71" fill="none" stroke="#666" stroke-width="1"/>

<!-- ============ PANEL I ============ -->
<text x="345" y="580" font-size="21" font-weight="bold">i</text>
<g font-size="11" font-style="italic" text-anchor="middle">
 <text x="420" y="593">HBB</text><text x="511" y="593">HBA1/2</text><text x="607" y="593">HBG</text>
</g>
<text x="360" y="641" font-size="10" text-anchor="middle" transform="rotate(-90 360 641)">mRNA level</text>
<text x="461" y="641" font-size="10" text-anchor="middle" transform="rotate(-90 461 641)">mRNA level</text>
<text x="553" y="641" font-size="10" text-anchor="middle" transform="rotate(-90 553 641)">mRNA level</text>
<g stroke="#111" stroke-width="1">
 <line x1="389.5" y1="601" x2="389.5" y2="682.5"/><line x1="389" y1="682.5" x2="447" y2="682.5"/>
 <line x1="485.5" y1="601" x2="485.5" y2="682.5"/><line x1="485" y1="682.5" x2="538" y2="682.5"/>
 <line x1="578.5" y1="601" x2="578.5" y2="682.5"/><line x1="578" y1="682.5" x2="633" y2="682.5"/>
 <path d="M385 601.6H389M385 615H389M385 628.4H389M385 641.8H389M385 655.2H389M385 668.6H389M385 682H389"/>
 <path d="M481 601.6H485M481 615H485M481 628.4H485M481 641.8H485M481 655.2H485M481 668.6H485M481 682H485"/>
 <path d="M574 601.6H578M574 615H578M574 628.4H578M574 641.8H578M574 655.2H578M574 668.6H578M574 682H578"/>
</g>
<g font-size="10.5" font-weight="bold" text-anchor="end">
 <text x="384" y="605.6">1.2</text><text x="384" y="619">1.0</text><text x="384" y="632.4">0.8</text><text x="384" y="645.8">0.6</text><text x="384" y="659.2">0.4</text><text x="384" y="672.6">0.2</text><text x="384" y="686">0.0</text>
 <text x="480" y="605.6">1.2</text><text x="480" y="619">1.0</text><text x="480" y="632.4">0.8</text><text x="480" y="645.8">0.6</text><text x="480" y="659.2">0.4</text><text x="480" y="672.6">0.2</text><text x="480" y="686">0.0</text>
 <text x="573" y="605.6">1.2</text><text x="573" y="619">1.0</text><text x="573" y="632.4">0.8</text><text x="573" y="645.8">0.6</text><text x="573" y="659.2">0.4</text><text x="573" y="672.6">0.2</text><text x="573" y="686">0.0</text>
</g>
<g fill="#e8403e">
 <rect x="399" y="616.3" width="14" height="65.7"/><rect x="493" y="616.3" width="14" height="65.7"/><rect x="587" y="616.3" width="14" height="65.7"/>
</g>
<g fill="#c45fb0">
 <rect x="423" y="637.1" width="14" height="44.9"/><rect x="516" y="642.5" width="14" height="39.5"/><rect x="610" y="657.9" width="14" height="24.1"/>
</g>
<g stroke="#111" stroke-width="1">
 <path d="M406 615V617.6M402.5 615H409.5M402.5 617.6H409.5"/>
 <path d="M500 615V617.6M496.5 615H503.5M496.5 617.6H503.5"/>
 <path d="M594 615V617.6M590.5 615H597.5M590.5 617.6H597.5"/>
 <path d="M430 635.1V639.1M426.5 635.1H433.5M426.5 639.1H433.5"/>
 <path d="M523 641.9V643.2M519.5 641.9H526.5M519.5 643.2H526.5"/>
 <path d="M617 655.9V659.9M613.5 655.9H620.5M613.5 659.9H620.5"/>
</g>
<g font-size="10" font-weight="bold" text-anchor="middle">
 <text x="431" y="628">***</text><text x="523" y="636">****</text><text x="617" y="651">****</text>
</g>
<g font-size="10.5" font-weight="bold" text-anchor="end">
 <text x="413" y="689" transform="rotate(-45 413 689)">-IAA</text>
 <text x="437" y="689" transform="rotate(-45 437 689)">+IAA</text>
 <text x="507" y="689" transform="rotate(-45 507 689)">-IAA</text>
 <text x="530" y="689" transform="rotate(-45 530 689)">+IAA</text>
 <text x="601" y="689" transform="rotate(-45 601 689)">-IAA</text>
 <text x="624" y="689" transform="rotate(-45 624 689)">+IAA</text>
</g>

<!-- ============ PANEL J ============ -->
<text x="0" y="730" font-size="21" font-weight="bold">j</text>
<text x="95" y="732" font-size="13" text-anchor="middle">HUDEP-2</text>
<text x="258" y="732" font-size="13" text-anchor="middle">HEL</text>
<g font-size="10.5" text-anchor="middle">
 <text x="63" y="750">-IAA</text><text x="133" y="750">+IAA</text><text x="229" y="750">-IAA</text><text x="299" y="750">+IAA</text>
</g>
<!-- heatmaps -->
<rect x="31" y="805" width="64" height="125" fill="url(#hm1)"/>
<rect x="58" y="805" width="10" height="125" fill="#8fbbe2" opacity="0.3" filter="url(#bl)"/>
<rect x="61.5" y="805" width="3" height="125" fill="url(#st1)" filter="url(#bl0)"/>
<rect x="101" y="805" width="65" height="125" fill="url(#hm2)"/>
<rect x="132" y="805" width="2" height="125" fill="#a4c4e6" opacity="0.9" filter="url(#bl0)"/>
<rect x="197" y="805" width="65" height="125" fill="url(#hm3)"/>
<polygon points="214,805 244,805 232,930 226,930" fill="#6aa0d2" opacity="0.4" filter="url(#bl2)"/>
<polygon points="224,805 234,805 230,930 228,930" fill="url(#st3)" filter="url(#bl0)"/>
<rect x="267" y="805" width="64" height="125" fill="url(#hm2)"/>
<polygon points="296,805 300,805 298.6,930 297.4,930" fill="url(#st4)" filter="url(#bl0)"/>
<g fill="none" stroke="#666" stroke-width="1">
 <rect x="31.5" y="753.5" width="64" height="50"/><rect x="101.5" y="753.5" width="65" height="50"/>
 <rect x="197.5" y="753.5" width="65" height="50"/><rect x="267.5" y="753.5" width="64" height="50"/>
 <rect x="31.5" y="805.5" width="64" height="125"/><rect x="101.5" y="805.5" width="65" height="125"/>
 <rect x="197.5" y="805.5" width="65" height="125"/><rect x="267.5" y="805.5" width="64" height="125"/>
</g>
<g stroke="#333" stroke-width="1">
 <path d="M28 762H31M28 775H31M28 788H31M28 800H31"/>
 <path d="M194 759H197M194 773H197M194 787H197M194 800H197"/>
 <path d="M99 762H101M99 775H101M99 788H101M265 759H267M265 773H267M265 787H267"/>
 <path d="M63 930V934M133 930V934M229 930V934M299 930V934M32 930V934M94 930V934M198 930V934M261 930V934"/>
</g>
<g font-size="11" text-anchor="end">
 <text x="27" y="766">150</text><text x="27" y="779">100</text><text x="27" y="792">50</text><text x="27" y="804">0</text>
 <text x="193" y="763">300</text><text x="193" y="777">200</text><text x="193" y="791">100</text><text x="193" y="804">0</text>
</g>
<path d="M32 800 L59 800 L60.5 797 L61.8 786 L62.6 762 L63 757 L63.4 762 L64.2 786 L65.5 797 L67 800 L95 800" fill="#c4c4ea" stroke="#2a2a8a" stroke-width="1"/>
<path d="M102 800 L130 800 L131.5 797 L132.6 792 L133 791 L133.4 792 L134.5 797 L136 800 L166 800" fill="#c4c4ea" stroke="#2a2a8a" stroke-width="1"/>
<path d="M198 800 L225 800 L226.5 797 L227.8 786 L228.6 762 L229 756 L229.4 762 L230.2 786 L231.5 797 L233 800 L262 800" fill="#c4c4ea" stroke="#2a2a8a" stroke-width="1"/>
<path d="M268 800.5 L294 800.5 L295.5 799 L296.6 797 L297 796 L297.4 797 L298.5 799 L300 800.5 L331 800.5" fill="#c4c4ea" stroke="#2a2a8a" stroke-width="1"/>
<text x="27" y="868" font-size="11" text-anchor="middle" transform="rotate(-90 27 868)">Reduced peaks: 29,625</text>
<text x="193" y="868" font-size="11" text-anchor="middle" transform="rotate(-90 193 868)">Reduced peaks: 41,817</text>
<g font-size="11">
 <text x="20" y="944">-5kb</text><text x="62" y="944" text-anchor="middle">center</text><text x="102" y="944" text-anchor="end">5kb</text>
 <text x="192" y="944">-5kb</text><text x="232" y="944" text-anchor="middle">center</text><text x="269" y="944" text-anchor="end">5kb</text>
</g>
<rect x="30.5" y="946.5" width="65" height="5" fill="url(#cbar)" stroke="#333" stroke-width="0.8"/>
<rect x="200.5" y="946.5" width="65" height="5" fill="url(#cbar)" stroke="#333" stroke-width="0.8"/>
<g font-size="11" text-anchor="middle">
 <text x="31" y="962">0</text><text x="52" y="962">80</text><text x="76" y="962">160</text>
 <text x="202" y="962">0</text><text x="219" y="962">50</text><text x="238" y="962">100</text>
</g>

<!-- ============ PANEL K ============ -->
<text x="350" y="730" font-size="21" font-weight="bold">k</text>
<text x="464" y="732" font-size="13" text-anchor="middle">HUDEP-2</text>
<text x="638" y="732" font-size="13" text-anchor="middle">HEL</text>
<text x="463" y="749" font-size="11" text-anchor="middle">Homer motif enrichment</text>
<text x="635" y="749" font-size="11" text-anchor="middle">Homer motif enrichment</text>
<text x="363" y="838" font-size="11" text-anchor="middle" transform="rotate(-90 363 838)">log<tspan font-size="7" dy="2">10</tspan><tspan dy="-2">(</tspan><tspan font-style="italic">P</tspan> value)</text>
<g fill="none" stroke="#222" stroke-width="1">
 <rect x="391.5" y="754.5" width="144" height="143"/>
 <rect x="561.5" y="754.5" width="144" height="143"/>
</g>
<g stroke="#333" stroke-width="1" stroke-dasharray="4,3">
 <line x1="430" y1="755" x2="430" y2="897"/><line x1="392" y1="885" x2="535" y2="885"/>
 <line x1="601" y1="755" x2="601" y2="897"/><line x1="562" y1="885" x2="705" y2="885"/>
</g>
<g stroke="#222" stroke-width="1">
 <path d="M388 759H391M388 801H391M388 843H391M388 885H391"/>
 <path d="M558 759H561M558 801H561M558 843H561M558 885H561"/>
 <path d="M397 898V902M430 898V902M463 898V902M496 898V902M529 898V902"/>
 <path d="M568 898V902M601 898V902M634 898V902M667 898V902M700 898V902"/>
</g>
<g font-size="11" text-anchor="end">
 <text x="387" y="763">300</text><text x="387" y="805">200</text><text x="387" y="847">100</text><text x="387" y="889">0</text>
 <text x="557" y="763">300</text><text x="557" y="805">200</text><text x="557" y="847">100</text><text x="557" y="889">0</text>
</g>
<g font-size="11" text-anchor="middle">
 <text x="397" y="913">-1</text><text x="430" y="913">0</text><text x="463" y="913">1</text><text x="496" y="913">2</text><text x="529" y="913">3</text>
 <text x="568" y="913">-1</text><text x="601" y="913">0</text><text x="634" y="913">1</text><text x="667" y="913">2</text><text x="700" y="913">3</text>
 <text x="463" y="928">log<tspan font-size="7" dy="2">2</tspan><tspan dy="-2">FC(target/background)</tspan></text>
 <text x="633" y="928">log<tspan font-size="7" dy="2">2</tspan><tspan dy="-2">FC(target/background)</tspan></text>
</g>
<g fill="#1a1a1a">
 <circle cx="424" cy="890" r="3.4"/><circle cx="428" cy="890" r="3.4"/><circle cx="432" cy="890" r="3.4"/><circle cx="436" cy="890" r="3.4"/><circle cx="440" cy="890" r="3.4"/><circle cx="444" cy="890" r="3.4"/><circle cx="448" cy="890" r="3.4"/>
 <circle cx="427" cy="886" r="3.4"/><circle cx="431" cy="886" r="3.4"/><circle cx="435" cy="886" r="3.4"/><circle cx="439" cy="886" r="3.4"/><circle cx="443" cy="886" r="3.4"/><circle cx="447" cy="886" r="3.4"/><circle cx="451" cy="886" r="3.4"/>
 <circle cx="429" cy="882" r="3.4"/><circle cx="433" cy="882" r="3.4"/><circle cx="437" cy="882" r="3.4"/><circle cx="441" cy="882" r="3.4"/><circle cx="445" cy="882" r="3.4"/><circle cx="449" cy="882" r="3.4"/>
 <circle cx="431" cy="878" r="3.4"/><circle cx="435" cy="878" r="3.4"/><circle cx="439" cy="878" r="3.4"/><circle cx="443" cy="878" r="3.4"/><circle cx="447" cy="878" r="3.4"/><circle cx="452" cy="878" r="3.4"/>
 <circle cx="432" cy="874" r="3.4"/><circle cx="436" cy="874" r="3.4"/><circle cx="440" cy="874" r="3.4"/><circle cx="444" cy="874" r="3.4"/><circle cx="449" cy="874" r="3.4"/>
 <circle cx="433" cy="870" r="3.4"/><circle cx="437" cy="870" r="3.4"/><circle cx="441" cy="870" r="3.4"/><circle cx="446" cy="870" r="3.4"/>
 <circle cx="434" cy="866" r="3.4"/><circle cx="438" cy="866" r="3.4"/><circle cx="442" cy="866" r="3.4"/><circle cx="448" cy="866" r="3.4"/>
 <circle cx="435" cy="862" r="3.4"/><circle cx="439" cy="862" r="3.4"/><circle cx="443" cy="862" r="3.4"/>
 <circle cx="436" cy="858" r="3.4"/><circle cx="440" cy="858" r="3.4"/><circle cx="437" cy="855" r="3.4"/>
 <circle cx="458" cy="873" r="3.4"/><circle cx="462" cy="874" r="3.4"/><circle cx="473" cy="870" r="3.4"/><circle cx="470" cy="890" r="3.4"/><circle cx="453" cy="885" r="3.4"/>

 <circle cx="596" cy="890" r="3.4"/><circle cx="600" cy="890" r="3.4"/><circle cx="604" cy="890" r="3.4"/><circle cx="608" cy="890" r="3.4"/><circle cx="612" cy="890" r="3.4"/><circle cx="616" cy="890" r="3.4"/><circle cx="620" cy="890" r="3.4"/>
 <circle cx="599" cy="886" r="3.4"/><circle cx="603" cy="886" r="3.4"/><circle cx="607" cy="886" r="3.4"/><circle cx="611" cy="886" r="3.4"/><circle cx="615" cy="886" r="3.4"/><circle cx="619" cy="886" r="3.4"/><circle cx="623" cy="886" r="3.4"/>
 <circle cx="601" cy="882" r="3.4"/><circle cx="605" cy="882" r="3.4"/><circle cx="609" cy="882" r="3.4"/><circle cx="613" cy="882" r="3.4"/><circle cx="617" cy="882" r="3.4"/><circle cx="621" cy="882" r="3.4"/>
 <circle cx="603" cy="878" r="3.4"/><circle cx="607" cy="878" r="3.4"/><circle cx="611" cy="878" r="3.4"/><circle cx="615" cy="878" r="3.4"/><circle cx="619" cy="878" r="3.4"/>
 <circle cx="604" cy="874" r="3.4"/><circle cx="608" cy="874" r="3.4"/><circle cx="612" cy="874" r="3.4"/><circle cx="616" cy="874" r="3.4"/><circle cx="621" cy="874" r="3.4"/>
 <circle cx="605" cy="870" r="3.4"/><circle cx="609" cy="870" r="3.4"/><circle cx="613" cy="870" r="3.4"/><circle cx="617" cy="870" r="3.4"/>
 <circle cx="606" cy="866" r="3.4"/><circle cx="610" cy="866" r="3.4"/><circle cx="614" cy="866" r="3.4"/><circle cx="618" cy="866" r="3.4"/>
 <circle cx="606" cy="862" r="3.4"/><circle cx="610" cy="862" r="3.4"/><circle cx="614" cy="862" r="3.4"/>
 <circle cx="607" cy="858" r="3.4"/><circle cx="611" cy="858" r="3.4"/><circle cx="615" cy="858" r="3.4"/>
 <circle cx="608" cy="854" r="3.4"/><circle cx="612" cy="854" r="3.4"/>
 <circle cx="609" cy="850" r="3.4"/><circle cx="613" cy="850" r="3.4"/>
 <circle cx="610" cy="846" r="3.4"/><circle cx="614" cy="846" r="3.4"/>
 <circle cx="611" cy="842" r="3.4"/><circle cx="616" cy="842" r="3.4"/>
 <circle cx="609" cy="838" r="3.4"/><circle cx="612" cy="838" r="3.4"/>
 <circle cx="626" cy="870" r="3.4"/><circle cx="628" cy="874" r="3.4"/><circle cx="638" cy="870" r="3.4"/><circle cx="631" cy="887" r="3.4"/><circle cx="622" cy="880" r="3.4"/>
</g>
<g fill="#e8141b">
 <circle cx="490" cy="759" r="3.6"/><circle cx="514" cy="759" r="3.6"/><circle cx="469" cy="881" r="3.6"/>
 <circle cx="672" cy="759" r="3.6"/><circle cx="699" cy="759" r="3.6"/><circle cx="654" cy="859" r="3.6"/>
</g>
<g font-size="11" fill="#e8141b">
 <text x="466" y="777">CTCFL</text><text x="507" y="775">CTCF</text><text x="476" y="884">CTCF</text>
 <text x="637" y="773">CTCFL</text><text x="677" y="776">CTCF</text><text x="655" y="850">CTCF</text>
</g>
</svg>
</body></html>
